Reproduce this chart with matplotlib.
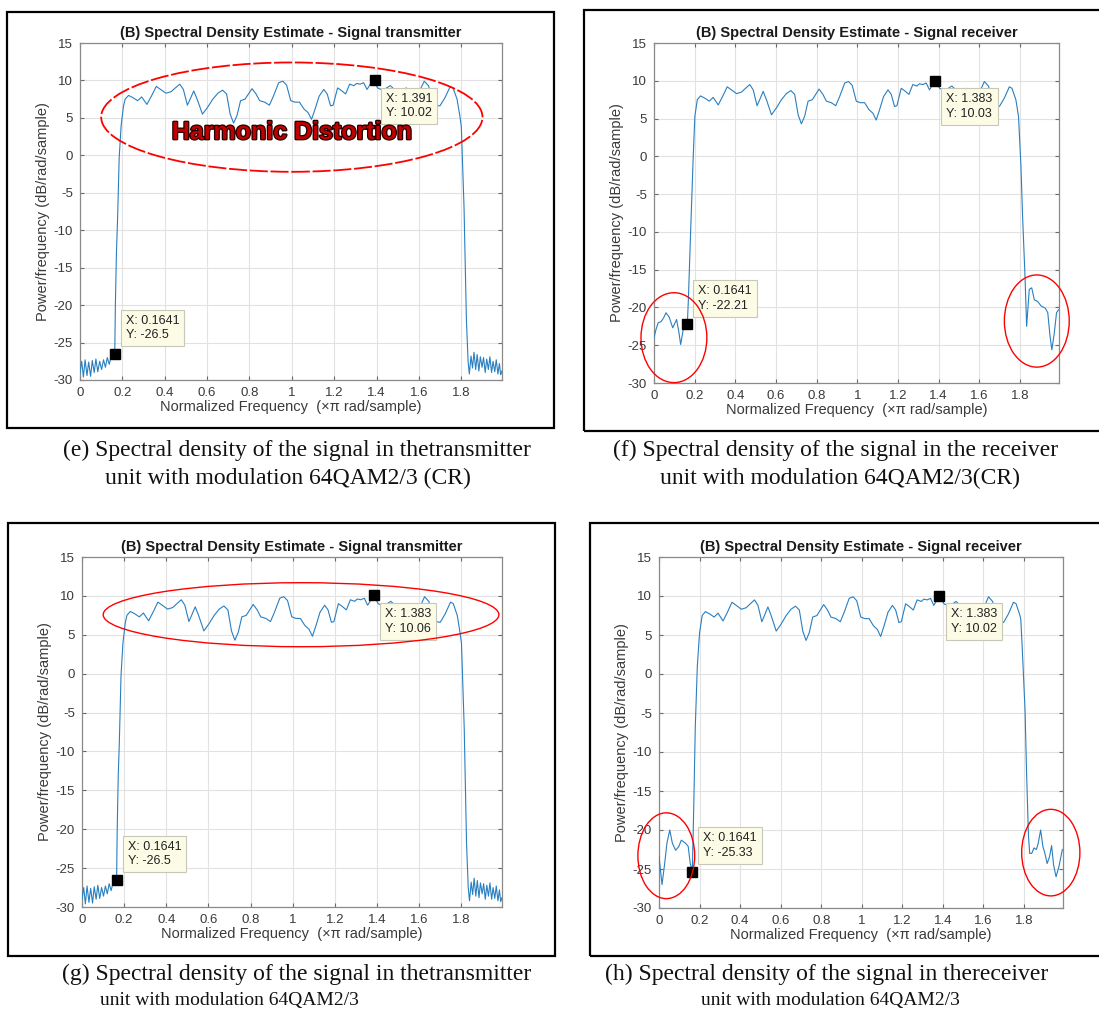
import matplotlib
matplotlib.use("Agg")
import matplotlib.pyplot as plt
import matplotlib.patheffects as pe
from matplotlib.patches import Ellipse, Rectangle

plt.rcParams['font.family'] = ['Liberation Sans', 'DejaVu Sans']
plt.rcParams['axes.unicode_minus'] = False

W, H = 1099, 1014

# in-band part of the Welch PSD, common to all four spectra (dB/rad/sample)
pass_f = [0.213, 0.229, 0.250, 0.272, 0.291, 0.316, 0.337, 0.360, 0.386, 0.406,
          0.430, 0.450, 0.471, 0.488, 0.507, 0.520, 0.537, 0.553, 0.578, 0.602,
          0.627, 0.651, 0.673, 0.692, 0.709, 0.725, 0.741, 0.758, 0.779, 0.812,
          0.831, 0.848, 0.872, 0.894, 0.913, 0.938, 0.957, 0.975, 0.995, 1.015,
          1.036, 1.057, 1.077, 1.093, 1.110, 1.129, 1.151, 1.167, 1.183, 1.195,
          1.216, 1.232, 1.254, 1.273, 1.293, 1.306, 1.322, 1.339, 1.355, 1.371,
          1.384, 1.405, 1.430, 1.465, 1.500, 1.540, 1.580, 1.610, 1.625, 1.645,
          1.665, 1.679, 1.699, 1.723, 1.748, 1.761, 1.780]
pass_p = [7.5, 8.0, 7.7, 7.3, 7.8, 6.8, 7.9, 9.2, 8.7, 8.3,
          8.5, 9.0, 9.5, 8.8, 6.7, 7.5, 8.6, 7.5, 5.5, 6.4,
          7.5, 8.3, 8.7, 8.2, 5.5, 4.3, 5.3, 7.3, 7.5, 8.9,
          8.2, 7.3, 7.1, 6.7, 7.9, 9.7, 9.9, 9.4, 7.3, 7.1,
          7.1, 6.2, 5.7, 4.8, 6.2, 7.9, 8.8, 8.2, 6.6, 6.7,
          9.0, 8.7, 8.2, 9.5, 9.3, 9.6, 9.5, 9.7, 8.8, 9.5,
          10.03, 9.0, 8.7, 9.3, 8.4, 9.0, 8.2, 9.0, 9.9, 9.3,
          7.5, 6.7, 6.6, 7.7, 9.2, 9.0, 7.5]

# transmitter: lower and upper stop bands with the band edges
tx_low_f = [0.000, 0.008, 0.016, 0.024, 0.033, 0.041, 0.050, 0.058, 0.067, 0.075,
            0.084, 0.093, 0.102, 0.111, 0.120, 0.129, 0.138, 0.147, 0.155, 0.1641,
            0.167, 0.172, 0.177, 0.185, 0.194, 0.205]
tx_low_p = [-29.0, -27.5, -29.6, -27.3, -29.4, -27.6, -29.5, -27.4, -29.0, -27.2,
            -28.9, -27.5, -28.6, -27.3, -28.3, -27.0, -27.9, -26.9, -27.2, -26.5,
            -20.0, -13.0, -8.9, -0.3, 3.9, 6.5]
tx_high_f = [1.793, 1.800, 1.813, 1.824, 1.832, 1.838, 1.846, 1.853, 1.860, 1.868,
             1.875, 1.883, 1.890, 1.898, 1.905, 1.913, 1.920, 1.928, 1.935, 1.943,
             1.950, 1.958, 1.965, 1.973, 1.980, 1.986, 1.992]
tx_high_p = [5.3, 3.9, -7.0, -21.8, -27.5, -29.2, -26.8, -28.4, -26.3, -28.6,
             -26.6, -28.8, -26.9, -28.3, -27.0, -29.0, -27.2, -28.6, -26.9, -29.0,
             -27.5, -28.9, -27.3, -29.2, -27.8, -29.3, -28.8]

# receiver, 64QAM2/3 (CR)
rxcr_low_f = [0.000, 0.010, 0.021, 0.034, 0.047, 0.059, 0.075, 0.092, 0.111, 0.122,
              0.131, 0.144, 0.1641, 0.169, 0.180, 0.193, 0.201]
rxcr_low_p = [-24.0, -22.9, -22.0, -21.9, -21.4, -20.7, -21.3, -22.7, -21.6, -23.2,
              -24.9, -22.9, -22.21, -19.0, -10.1, 0.0, 5.3]
rxcr_high_f = [1.793, 1.805, 1.813, 1.825, 1.833, 1.846, 1.858, 1.871, 1.887, 1.904,
               1.925, 1.937, 1.948, 1.957, 1.969, 1.980, 1.990]
rxcr_high_p = [5.3, -1.3, -7.9, -15.9, -22.5, -17.6, -17.4, -19.0, -19.2, -19.8,
               -20.1, -20.7, -23.8, -25.6, -23.4, -20.7, -20.3]

# receiver, 64QAM2/3
rx_low_f = [0.000, 0.015, 0.028, 0.039, 0.053, 0.066, 0.082, 0.098, 0.110, 0.131,
            0.144, 0.154, 0.1641, 0.171, 0.179, 0.189, 0.200]
rx_low_p = [-23.4, -27.0, -24.3, -21.7, -20.0, -21.7, -22.6, -22.1, -21.3, -21.7,
            -22.1, -24.3, -25.33, -17.5, -6.7, 1.0, 5.3]
rx_high_f = [1.784, 1.790, 1.805, 1.813, 1.822, 1.828, 1.838, 1.849, 1.861, 1.870,
             1.882, 1.893, 1.903, 1.914, 1.926, 1.936, 1.946, 1.958, 1.972, 1.989]
rx_high_p = [7.0, 4.0, -4.6, -13.1, -20.8, -23.0, -23.0, -22.3, -22.5, -21.7,
             -20.0, -22.1, -23.0, -24.3, -23.4, -22.0, -24.5, -26.0, -24.7, -22.5]

# data cursors (X, Y) on each spectrum
tips_e = [(0.1641, -26.5), (1.391, 10.02)]
tips_f = [(0.1641, -22.21), (1.383, 10.03)]
tips_g = [(0.1641, -26.5), (1.383, 10.06)]
tips_h = [(0.1641, -25.33), (1.383, 10.02)]

title_tx = "(B) Spectral Density Estimate - Signal transmitter"
title_rx = "(B) Spectral Density Estimate - Signal receiver"
captions = {
    "e": ["(e) Spectral density of the signal in thetransmitter",
          "unit with modulation 64QAM2/3 (CR)"],
    "f": ["(f) Spectral density of the signal in the receiver",
          "unit with modulation 64QAM2/3(CR)"],
    "g": ["(g) Spectral density of the signal in thetransmitter",
          "unit with modulation 64QAM2/3"],
    "h": ["(h) Spectral density of the signal in thereceiver",
          "unit with modulation 64QAM2/3"],
}

fig = plt.figure(figsize=(W / 100, H / 100), dpi=100)


def axes_at(left, top, right, bottom):
    return fig.add_axes([left / W, 1 - bottom / H, (right - left) / W, (bottom - top) / H])


def frame(left, top, right, bottom):
    fig.add_artist(Rectangle((left / W, 1 - bottom / H), (right - left) / W, (bottom - top) / H,
                             transform=fig.transFigure, fill=False, lw=1.6, ec='black'))


def caption(lines, x1, x2, y1, y2, size2=17, ha2='left'):
    fig.text(x1 / W, 1 - y1 / H, lines[0], family='Liberation Serif', fontsize=17,
             ha='left', va='center', color='#111111')
    fig.text(x2 / W, 1 - y2 / H, lines[1], family='Liberation Serif', fontsize=size2,
             ha=ha2, va='center', color='#111111')


def spectrum(ax, low_f, low_p, high_f, high_p, title, tips):
    ax.plot(low_f + pass_f + high_f, low_p + pass_p + high_p, color='#2a7fc0', lw=0.8, zorder=3)
    ax.set_xlim(0, 1.9922)
    ax.set_ylim(-30, 15)
    ax.set_xticks([0, 0.2, 0.4, 0.6, 0.8, 1, 1.2, 1.4, 1.6, 1.8])
    ax.set_xticklabels(['0', '0.2', '0.4', '0.6', '0.8', '1', '1.2', '1.4', '1.6', '1.8'])
    ax.set_yticks(range(-30, 16, 5))
    ax.set_yticklabels([str(v) for v in range(-30, 16, 5)])
    ax.grid(True, color='#e2e2e2', lw=0.8)
    ax.set_axisbelow(True)
    for s in ax.spines.values():
        s.set_color('#8a8a8a')
        s.set_linewidth(0.9)
    ax.tick_params(direction='in', top=True, right=True, length=3, width=0.8,
                   color='#6a6a6a', labelsize=9.5, labelcolor='#3a3a3a', pad=5)
    ax.set_title(title, fontsize=10.5, fontweight='bold', color='#1a1a1a', pad=4)
    ax.set_xlabel('Normalized Frequency  (×π rad/sample)', fontsize=10.5, color='#3a3a3a', labelpad=1)
    ax.set_ylabel('Power/frequency (dB/rad/sample)', fontsize=10.5, color='#3a3a3a', labelpad=3)

    (x0, y0), (x1, y1) = tips
    box = dict(boxstyle='square,pad=0.4', fc='#fbfbe6', ec='#c8c8b8', lw=0.8)
    for (x, y), dy, va in [((x0, y0), 9, 'bottom'), ((x1, y1), -9, 'top')]:
        ax.plot(x, y, 's', color='black', ms=6.5, zorder=6, clip_on=False)
        ax.annotate(f"X: {x:g}\nY: {y:g}", (x, y), xytext=(8, dy), textcoords='offset points',
                    ha='left', va=va, fontsize=9, color='#222222', linespacing=1.3,
                    bbox=box, zorder=7)


def ring(ax, cx, cy, w, h, ls='-', lw=1.0):
    ax.add_patch(Ellipse((cx, cy), w, h, fill=False, ec='red', lw=lw, ls=ls,
                         zorder=8, clip_on=False))


# panel (e)
frame(7, 12, 554, 428)
ax_e = axes_at(80, 43, 502, 380)
spectrum(ax_e, tx_low_f, tx_low_p, tx_high_f, tx_high_p, title_tx, tips_e)
ring(ax_e, 1.0, 5.1, 1.80, 14.6, ls=(0, (10, 1.5)), lw=1.3)
ax_e.text(1.0, 3.1, 'Harmonic Distortion', fontsize=18, fontweight='bold', color='#c00000',
          ha='center', va='center', zorder=9,
          path_effects=[pe.withStroke(linewidth=1.8, foreground='#200000')])
caption(captions["e"], 63, 105, 450, 478)

# panel (f)
frame(584, 10, 1110, 431)
ax_f = axes_at(654, 43, 1059, 383)
spectrum(ax_f, rxcr_low_f, rxcr_low_p, rxcr_high_f, rxcr_high_p, title_rx, tips_f)
ring(ax_f, 0.098, -24.0, 0.324, 11.9)
ring(ax_f, 1.883, -21.8, 0.319, 12.2)
caption(captions["f"], 613, 660, 450, 478)

# panel (g)
frame(8, 523, 555, 956)
ax_g = axes_at(82, 557, 502, 907)
spectrum(ax_g, tx_low_f, tx_low_p, tx_high_f, tx_high_p, title_tx, tips_g)
ring(ax_g, 1.039, 7.58, 1.877, 8.23)
caption(captions["g"], 62, 100, 974, 1000, size2=14)

# panel (h)
frame(590, 523, 1110, 956)
ax_h = axes_at(659, 557, 1063, 908)
spectrum(ax_h, rx_low_f, rx_low_p, rx_high_f, rx_high_p, title_rx, tips_h)
ring(ax_h, 0.036, -23.3, 0.28, 11.0)
ring(ax_h, 1.932, -22.9, 0.287, 11.1)
caption(captions["h"], 605, 830, 974, 1000, size2=14, ha2='center')

fig.savefig('out.png', dpi=100)
